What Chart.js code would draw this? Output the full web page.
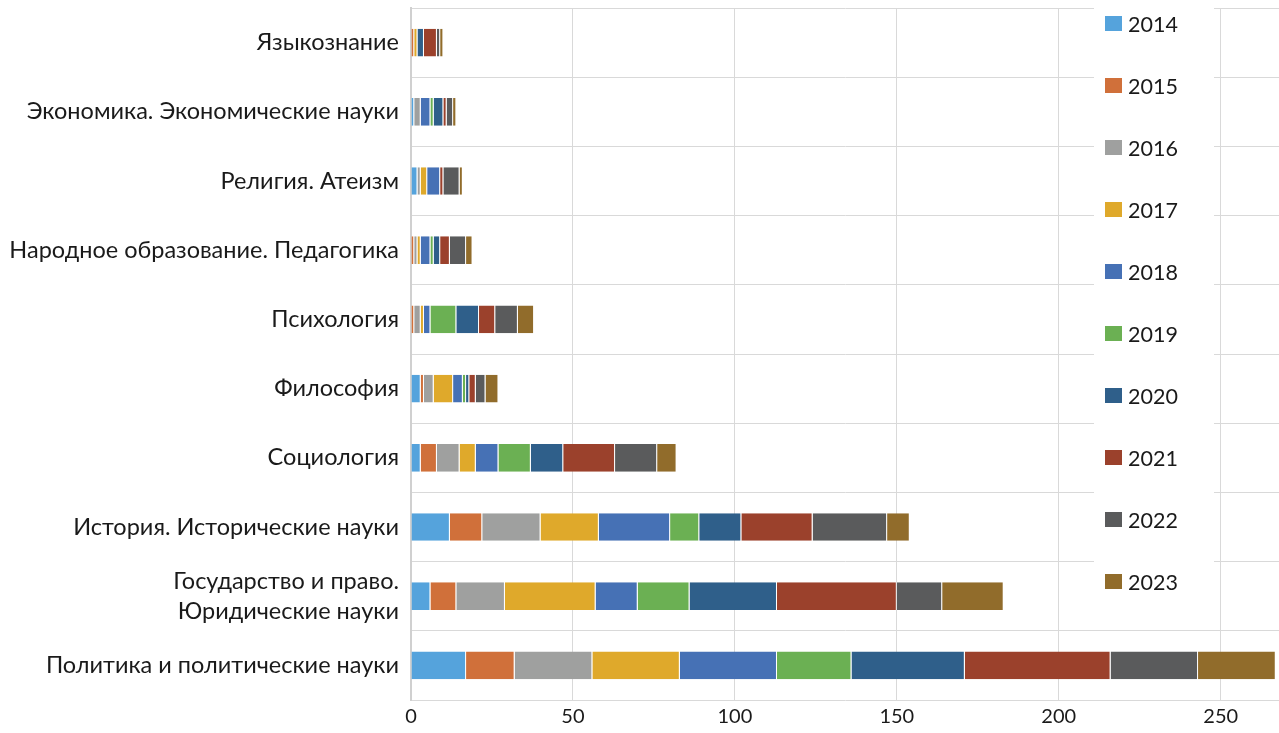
<!DOCTYPE html>
<html>
<head>
<meta charset="utf-8">
<script src="https://cdn.jsdelivr.net/npm/chart.js@4.4.0/dist/chart.umd.min.js"></script>
<style>
  html, body { margin: 0; padding: 0; background: #ffffff; }
  #wrap { position: relative; width: 1279px; height: 733px; }
</style>
</head>
<body>
<div id="wrap"><canvas id="c" width="1279" height="733"></canvas></div>
<script>
const categories = [
  'Языкознание',
  'Экономика. Экономические науки',
  'Религия. Атеизм',
  'Народное образование. Педагогика',
  'Психология',
  'Философия',
  'Социология',
  'История. Исторические науки',
  ['Государство и право.', 'Юридические науки'],
  'Политика и политические науки'
];
const years = ['2014','2015','2016','2017','2018','2019','2020','2021','2022','2023'];
const v2014 = [0, 1, 2, 0, 0, 3, 3, 12, 6, 17];
const v2015 = [1, 0, 0, 1, 1, 1, 5, 10, 8, 15];
const v2016 = [0, 2, 1, 1, 2, 3, 7, 18, 15, 24];
const v2017 = [1, 0, 2, 1, 1, 6, 5, 18, 28, 27];
const v2018 = [0, 3, 4, 3, 2, 3, 7, 22, 13, 30];
const v2019 = [0, 1, 0, 1, 8, 1, 10, 9, 16, 23];
const v2020 = [2, 3, 0, 2, 7, 1, 10, 13, 27, 35];
const v2021 = [4, 1, 1, 3, 5, 2, 16, 22, 37, 45];
const v2022 = [1, 2, 5, 5, 7, 3, 13, 23, 14, 27];
const v2023 = [1, 1, 1, 2, 5, 4, 6, 7, 19, 24];
const seriesValues = [v2014, v2015, v2016, v2017, v2018, v2019, v2020, v2021, v2022, v2023];
const xTicks = [0, 50, 100, 150, 200, 250];

const colors = ['#55a3dc','#d0703a','#9fa09f','#dfa92b','#4671b5','#6bb053','#2f5f8a','#9b412c','#5a5b5c','#916c2b'];
const FONT = 'Lato, "Open Sans", sans-serif';

const datasets = years.map((y, i) => ({
  label: y,
  data: seriesValues[i],
  backgroundColor: colors[i],
  borderColor: 'rgba(255,255,255,0.45)',
  borderWidth: {left: 0, top: 0, bottom: 0, right: 1},
  borderSkipped: false,
  categoryPercentage: 1.0,
  barPercentage: 0.4
}));

const overlayLegend = {
  id: 'overlayLegend',
  afterDraw(chart) {
    const ctx = chart.ctx;
    ctx.save();
    ctx.fillStyle = '#ffffff';
    ctx.fillRect(1094, 0, 120, 612);
    ctx.font = '21.5px ' + FONT;
    ctx.textBaseline = 'middle';
    ctx.textAlign = 'left';
    chart.data.datasets.forEach((ds, i) => {
      const cy = 24 + 62 * i;
      ctx.fillStyle = ds.backgroundColor;
      ctx.fillRect(1105, cy - 8, 17, 15);
      ctx.fillStyle = '#1a1a1a';
      ctx.fillText(ds.label, 1128, cy + 1);
    });
    ctx.restore();
  }
};

new Chart(document.getElementById('c'), {
  type: 'bar',
  data: { labels: categories, datasets },
  options: {
    indexAxis: 'y',
    responsive: false,
    animation: false,
    devicePixelRatio: 1,
    layout: { padding: { top: 8, right: 0, left: 0, bottom: 0 } },
    plugins: { legend: { display: false }, tooltip: { enabled: false } },
    scales: {
      x: {
        stacked: true,
        min: 0,
        max: 268,
        afterBuildTicks(scale) { scale.ticks = xTicks.map(v => ({ value: v })); },
        afterFit(scale) { scale.height = 33; scale.paddingLeft = 0; scale.paddingRight = 0; },
        grid: { color: '#d9d9d9', lineWidth: 1, drawTicks: false },
        border: { display: false },
        ticks: { font: { family: FONT, size: 20 }, color: '#1a1a1a', padding: 5, maxRotation: 0 }
      },
      y: {
        stacked: true,
        afterFit(scale) { scale.width = 411; scale.paddingTop = 0; scale.paddingBottom = 0; },
        grid: { color: '#d9d9d9', lineWidth: 1, drawTicks: false, offset: true },
        border: { display: true, color: '#d0d0d0', width: 2 },
        ticks: { font: { family: FONT, size: 23.5, lineHeight: 1.28 }, color: '#1a1a1a', padding: 12, autoSkip: false }
      }
    }
  },
  plugins: [overlayLegend]
});
</script>
</body>
</html>
